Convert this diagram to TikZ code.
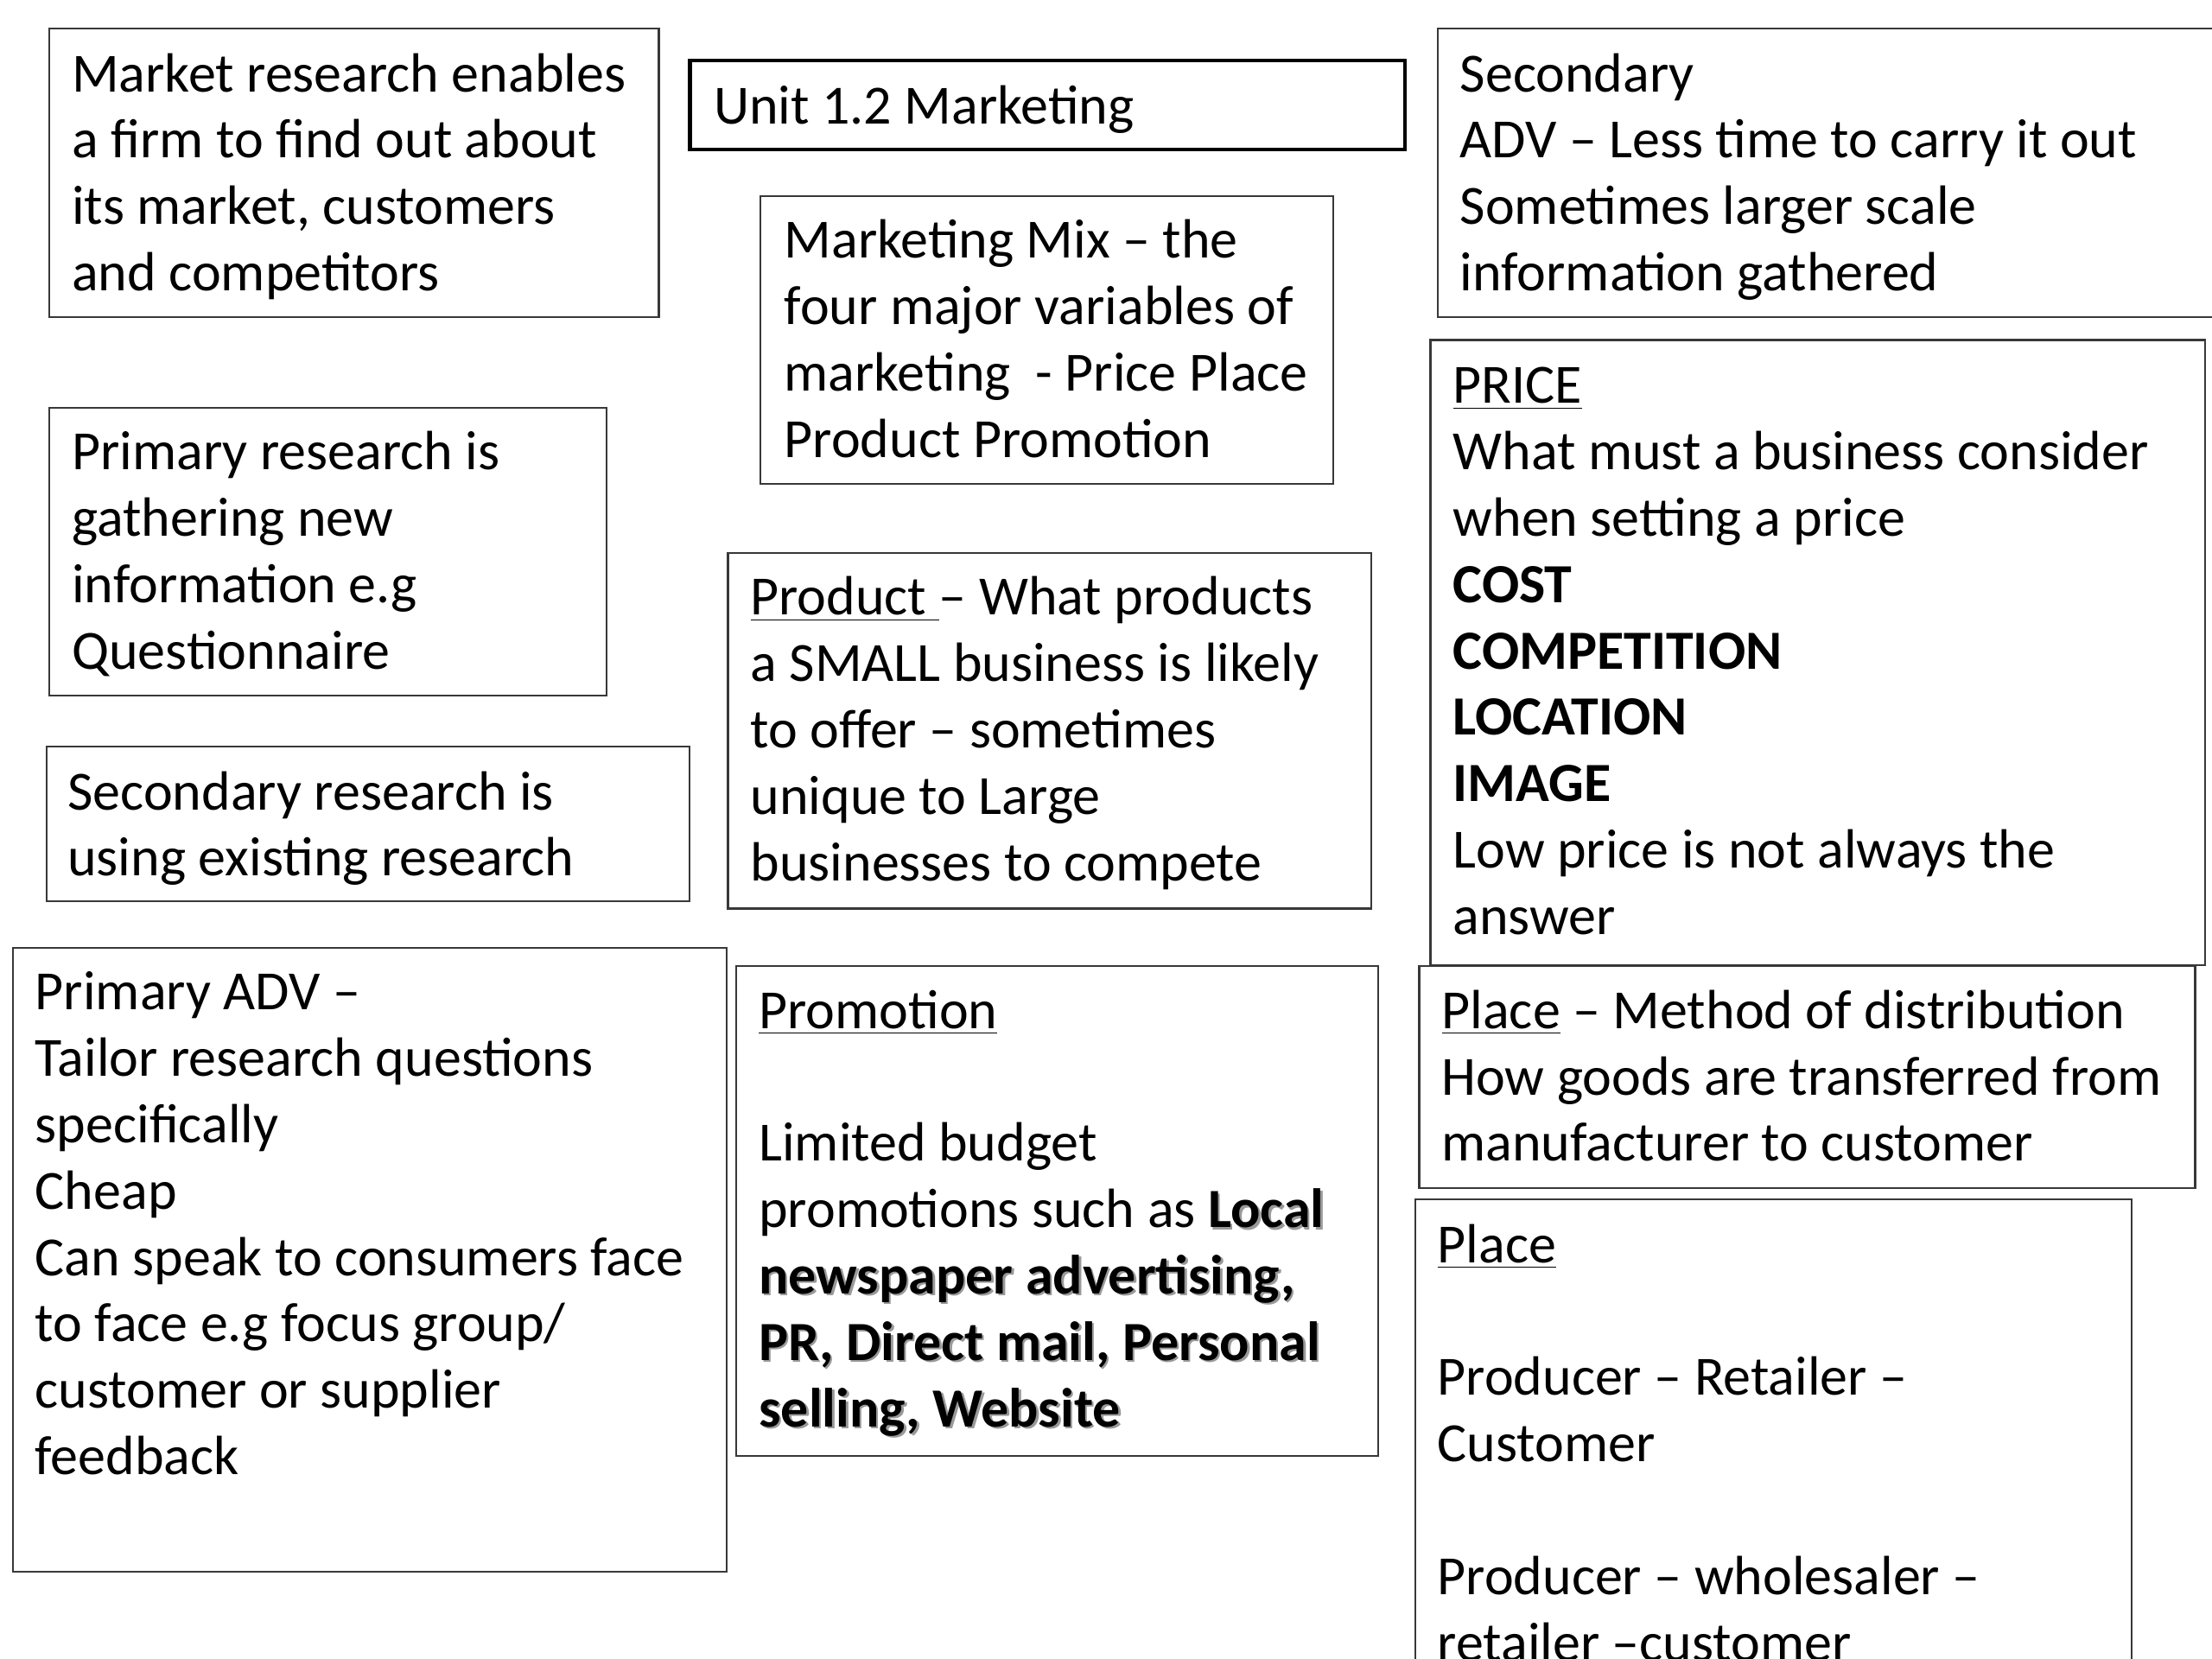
\documentclass[tikz,border=0pt]{standalone}
\usepackage{fontspec}
\setmainfont{Carlito}
\usepackage{xcolor}
\newcommand\tb[1]{\parbox[t]{15cm}{\raggedright\fontsize{18pt}{21.6pt}\selectfont #1}}
\newcommand\shb[1]{\makebox[0pt][l]{\color{black!40}\kern0.7pt\raisebox{-0.7pt}{\bfseries #1}}{\bfseries #1}}
\newcommand\ulx[1]{\underline{#1}}
\begin{document}
\begin{tikzpicture}[x=0.45918pt,y=-0.45918pt,
  box/.style={draw=black!78,line width=0.6pt},
  titlebox/.style={draw=black,line width=1.2pt},
  txt/.style={anchor=base west,inner sep=0pt,outer sep=0pt}]
\useasboundingbox[fill=white] (0,0) rectangle (1568,1176);

% boxes
\draw[box] (35,20) rectangle (467,225);
\draw[titlebox] (489,43) rectangle (996,106);
\draw[box] (539,139) rectangle (945,343);
\draw[box] (1019,20) rectangle (1580,225);
\draw[box] (35,289) rectangle (430,493);
\draw[box] (516,392) rectangle (972,644);
\draw[box] (1014,241) rectangle (1563,684);
\draw[box] (33,529) rectangle (489,639);
\draw[box] (9,672) rectangle (515,1114);
\draw[box] (522,685) rectangle (977,1032);
\draw[box] (1006,685) rectangle (1556,842);
\draw[box] (1003,850) rectangle (1511,1200);

% texts
\node[txt] (mr) at (51,65) {\tb{Market research enables\\a firm to find out about\\its market, customers\\and competitors}};
\node[txt] (unit) at (506,88) {\tb{Unit 1.2 Marketing}};
\node[txt] (mix) at (556,183) {\tb{Marketing Mix – the\\four major variables of\\marketing\ \ - Price Place\\Product Promotion}};
\node[txt] (sec) at (1035,65) {\tb{Secondary\\ADV – Less time to carry it out\\Sometimes larger scale\\information gathered}};
\node[txt] (prim) at (51,333) {\tb{Primary research is\\gathering new\\information e.g\\Questionnaire}};
\node[txt] (prod) at (532,436) {\tb{\ulx{Product\ }– What products\\a SMALL business is likely\\to offer – sometimes\\unique to Large\\businesses to compete}};
\node[txt] (price) at (1030,286) {\tb{\ulx{PRICE}\\What must a business consider\\when setting a price\\\textbf{COST}\\\textbf{COMPETITION}\\\textbf{LOCATION}\\\textbf{IMAGE}\\Low price is not always the\\answer}};
\node[txt] (secr) at (48,574) {\tb{Secondary research is\\using existing research}};
\node[txt] (padv) at (25,716) {\tb{Primary ADV –\\Tailor research questions\\specifically\\Cheap\\Can speak to consumers face\\to face e.g focus group/\\customer or supplier\\feedback}};
\node[txt] (promo) at (538,729) {\tb{\ulx{Promotion}\\\mbox{}\\Limited budget\\promotions such as \shb{Local}\\\shb{newspaper advertising,}\\\shb{PR, Direct mail, Personal}\\\shb{selling, Website}}};
\node[txt] (place1) at (1022,729) {\tb{\ulx{Place} – Method of distribution\\How goods are transferred from\\manufacturer to customer}};
\node[txt] (place2) at (1019,895) {\tb{\ulx{Place}\\\mbox{}\\Producer – Retailer –\\Customer\\\mbox{}\\Producer – wholesaler –\\retailer –customer}};
\end{tikzpicture}
\end{document}
